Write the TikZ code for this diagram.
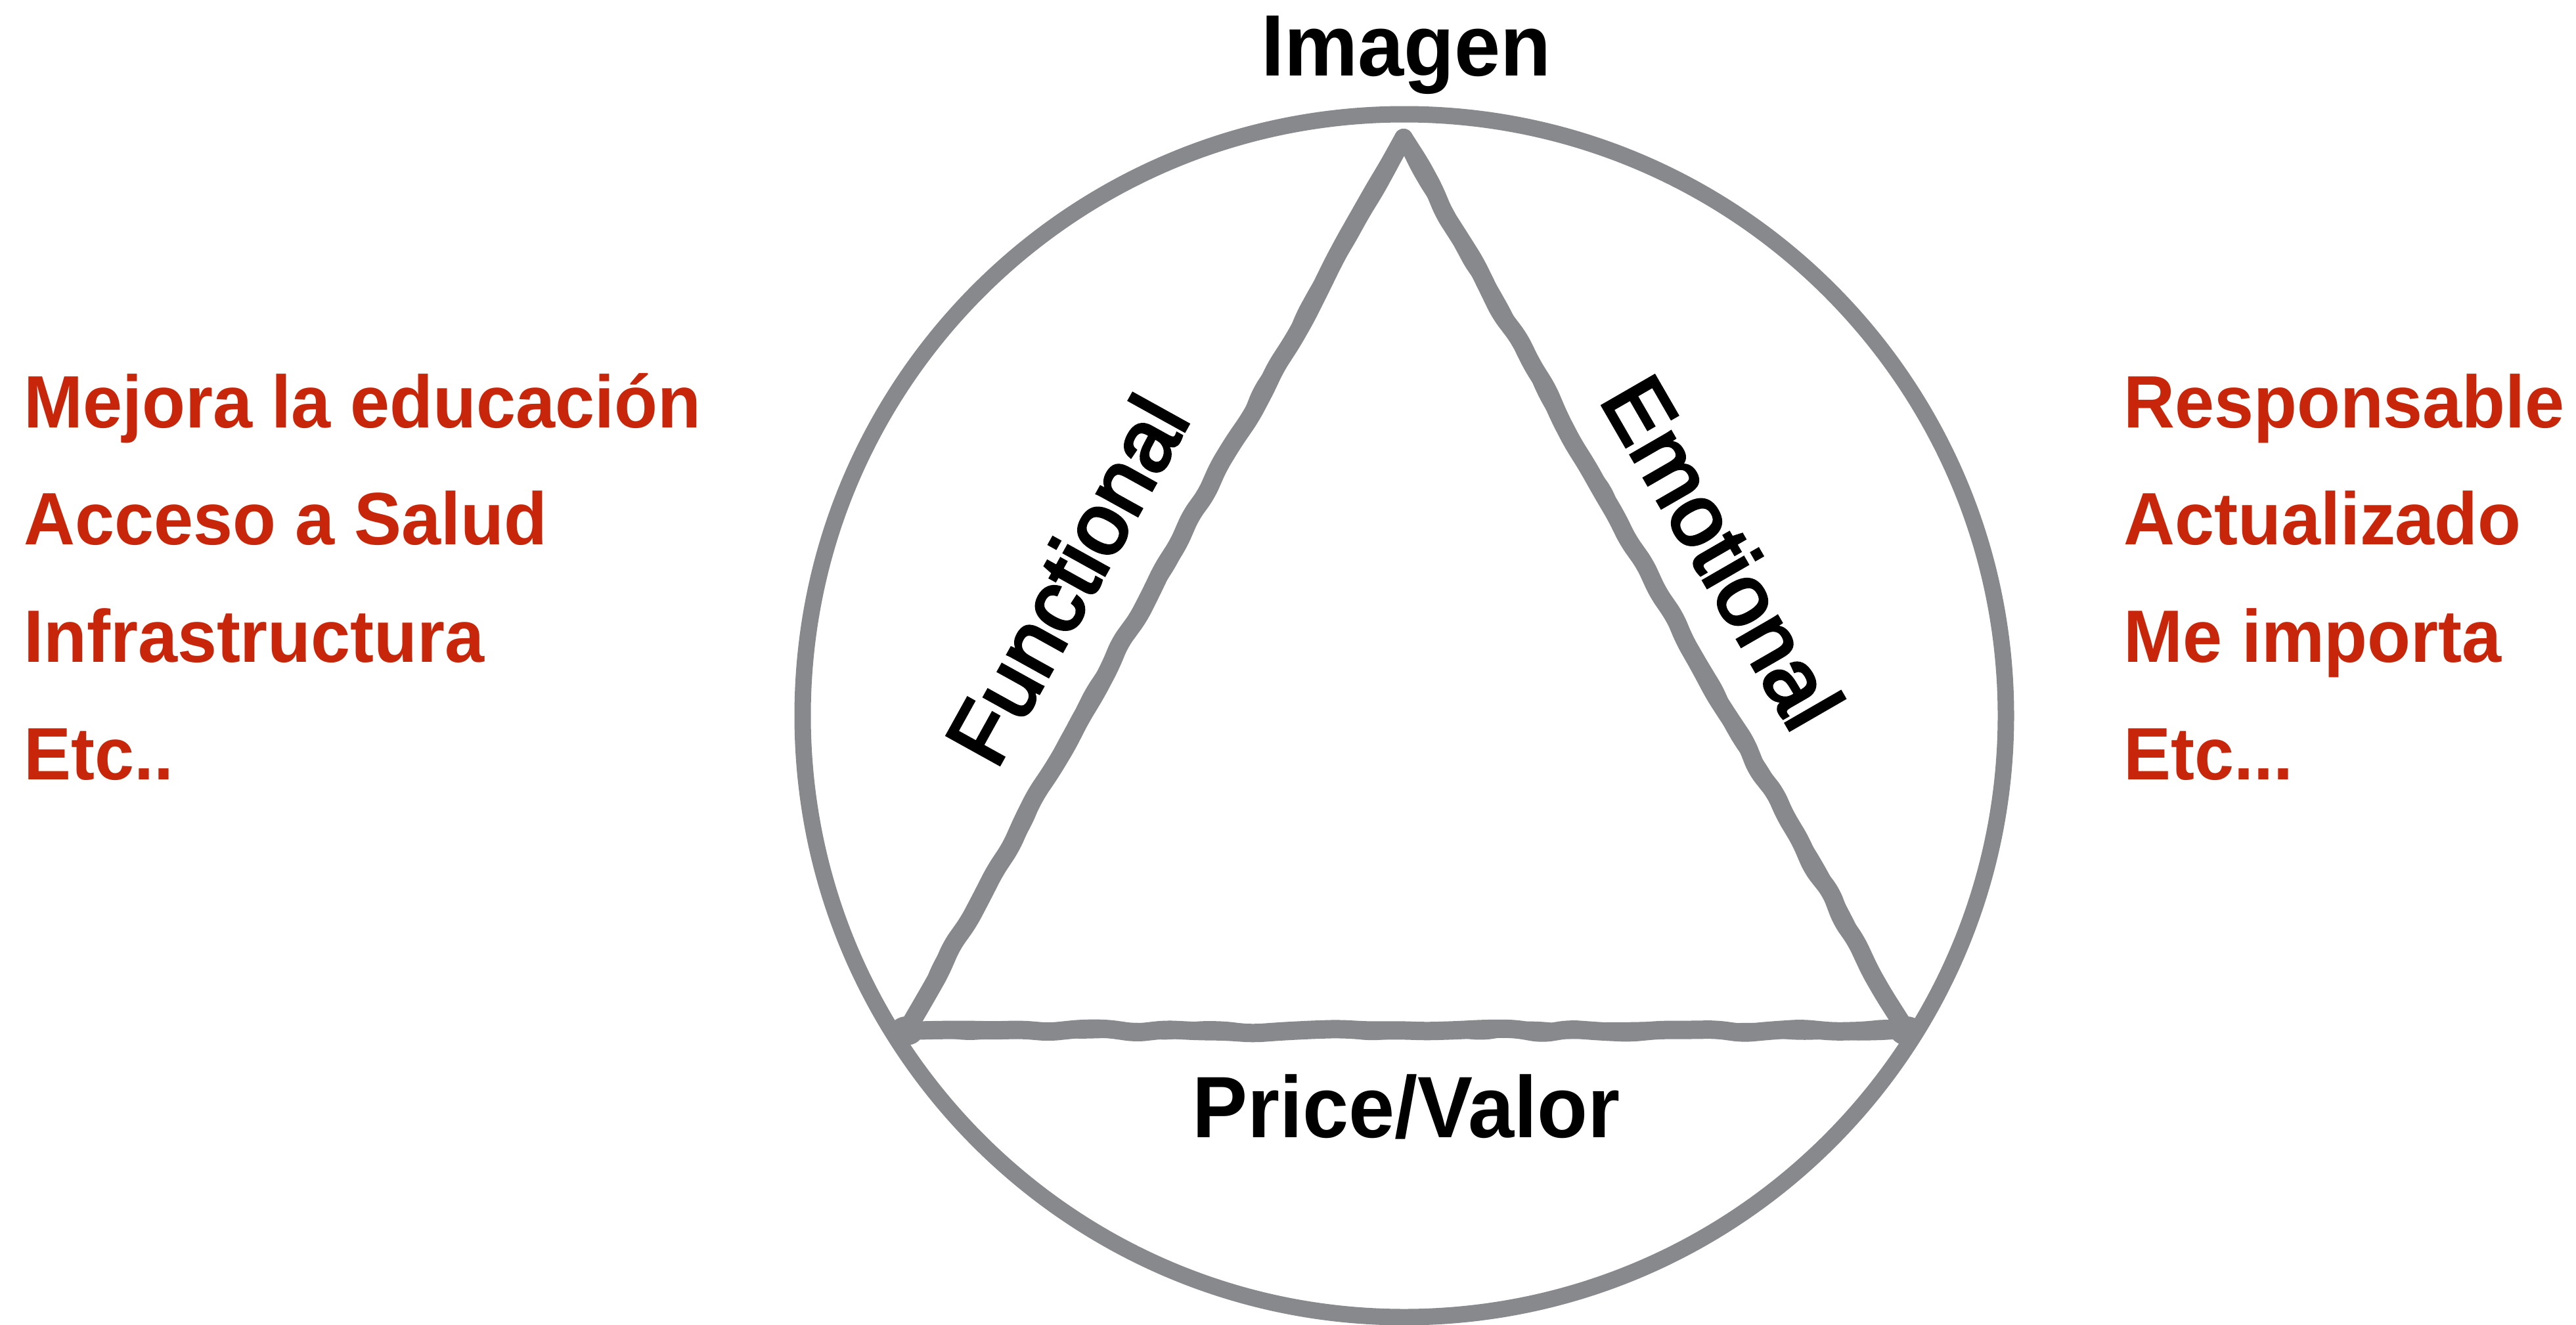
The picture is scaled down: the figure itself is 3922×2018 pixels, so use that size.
\documentclass[tikz,border=0pt]{standalone}
\usepackage{fontspec}
\setmainfont{Liberation Sans}
\usetikzlibrary{decorations.pathmorphing}
\newfontfamily\headfont[FakeStretch=0.95]{Liberation Sans Bold}
\newfontfamily\leftfont[FakeStretch=0.955]{Liberation Sans Bold}
\newfontfamily\rightfont[FakeStretch=0.955]{Liberation Sans Bold}
\newfontfamily\sidefont[FakeBold=3.5]{Liberation Sans}
\definecolor{ringgray}{RGB}{135,137,141}
\definecolor{listred}{RGB}{200,38,10}

\begin{document}
\begin{tikzpicture}[x=1pt,y=-1pt,
  ring/.style={draw=ringgray,line width=25pt},
  edge/.style={draw=ringgray,line width=28pt,line cap=round,line join=round,
    decorate,decoration={random steps,segment length=44pt,amplitude=4pt},
    rounded corners=14pt},
  title/.style={inner sep=0pt,anchor=base,text=black,
    font=\headfont\fontsize{132.7}{150}\selectfont},
  side/.style={inner sep=0pt,anchor=base,text=black,
    font=\sidefont\fontsize{132.7}{150}\selectfont},
  item/.style={inner sep=0pt,anchor=base west,text=listred,
    font=\fontsize{113}{130}\selectfont}]
\useasboundingbox (0,0) rectangle (3922,2018);
\fill[white] (0,0) rectangle (3922,2018);

% outer ring
\coordinate (centre) at (2138,1090);
\draw[ring] (centre) circle[radius=916];

% hand-drawn triangle, two passes for an uneven brush width
\coordinate (apex) at (2137,210);
\coordinate (left) at (1380,1570);
\coordinate (right) at (2903,1570);
\pgfmathsetseed{11}
\draw[edge] (apex) -- (left);
\draw[edge] (apex) -- (right);
\draw[edge] (left) -- (right);
\pgfmathsetseed{29}
\draw[edge,line width=22pt] (apex) -- (left);
\draw[edge,line width=22pt] (apex) -- (right);
\draw[edge,line width=22pt] (left) -- (right);
\fill[ringgray] (left) ellipse[x radius=26, y radius=22];
\fill[ringgray] (right) ellipse[x radius=26, y radius=22];

% labels
\node[title] (imagen) at (2141,115) {Imagen};
\node[title] (price) at (2141,1732) {Price/Valor};
\node[side,rotate=61] (functional) at (1665,906) {Functional};
\node[side,rotate=-60] (emotional) at (2582,864) {Emotional};

% left list
\node[item,font=\leftfont\fontsize{113}{130}\selectfont] (l1) at (36,651) {Mejora la educación};
\node[item,font=\leftfont\fontsize{113}{130}\selectfont] (l2) at (36,829) {Acceso a Salud};
\node[item,font=\leftfont\fontsize{113}{130}\selectfont] (l3) at (36,1008) {Infrastructura};
\node[item,font=\leftfont\fontsize{113}{130}\selectfont] (l4) at (36,1187) {Etc..};

% right list
\node[item,font=\rightfont\fontsize{113}{130}\selectfont] (r1) at (3233,651) {Responsable};
\node[item,font=\rightfont\fontsize{113}{130}\selectfont] (r2) at (3233,829) {Actualizado};
\node[item,font=\rightfont\fontsize{113}{130}\selectfont] (r3) at (3233,1008) {Me importa};
\node[item,font=\rightfont\fontsize{113}{130}\selectfont] (r4) at (3233,1187) {Etc...};
\end{tikzpicture}
\end{document}
